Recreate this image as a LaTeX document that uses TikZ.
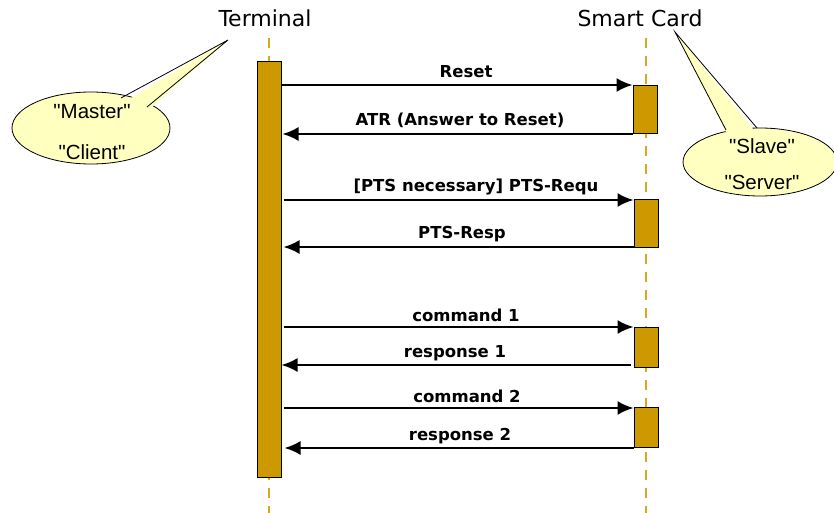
\documentclass[tikz,border=0pt]{standalone}
\usepackage{fontspec}
\setmainfont{DejaVu Sans}
\newfontfamily\calloutfont{Liberation Sans}
\usetikzlibrary{arrows.meta,calc}
\definecolor{barfill}{HTML}{CC9900}
\definecolor{lifecol}{HTML}{DDA520}
\definecolor{callfill}{HTML}{FFFFC0}
\tikzset{
  lifeline/.style={draw=lifecol, line width=2.4pt, dash pattern=on 10pt off 8pt},
  actbar/.style={draw=black, fill=barfill, line width=1pt, minimum width=24pt, inner sep=0pt, anchor=north},
  msg/.style={draw=black, line width=2pt, -{Latex[length=16pt,width=14pt]}},
  msglabel/.style={font=\bfseries\fontsize{16.5}{19}\selectfont, inner sep=0pt},
  title/.style={font=\fontsize{22}{26}\selectfont, inner sep=0pt},
  calltext/.style={font=\calloutfont\fontsize{20.5}{24}\selectfont, inner sep=0pt},
}
\begin{document}
\begin{tikzpicture}[x=1pt,y=-1pt]
\useasboundingbox (0,0) rectangle (834,513);
% titles
\node[title] (tterm) at (265,18) {Terminal};
\node[title] (tcard) at (640,18) {Smart Card};
% lifelines
\coordinate (tl0) at (269,38);
\coordinate (tl1) at (269,513);
\coordinate (cl0) at (646,38);
\coordinate (cl1) at (646,513);
\draw[lifeline] (tl0) -- (tl1);
\draw[lifeline] (cl0) -- (cl1);
% activation bars
\node[actbar, minimum height=416pt] (tbar) at (269,61) {};
\node[actbar, minimum height=48pt] (c1) at (645,85) {};
\node[actbar, minimum height=48pt] (c2) at (646,199) {};
\node[actbar, minimum height=40pt] (c3) at (646,327) {};
\node[actbar, minimum height=40pt] (c4) at (646,407) {};
% messages
\draw[msg] (tbar.east |- c1.north) -- (c1.north west);
\draw[msg] (c1.south west) -- ($(tbar.east |- c1.south)+(1,0)$);
\draw[msg] ($(tbar.east |- c2.north)+(2,1)$) -- ($(c2.north west)+(0,1)$);
\draw[msg] ($(c2.south west)+(0,-1)$) -- ($(tbar.east |- c2.south)+(2,-1)$);
\draw[msg] ($(tbar.east |- c3.north)+(2,0)$) -- (c3.north west);
\draw[msg] ($(c3.south west)+(-3,-3)$) -- ($(tbar.east |- c3.south)+(0,-3)$);
\draw[msg] ($(tbar.east |- c4.north)+(2,1)$) -- ($(c4.north west)+(0,1)$);
\draw[msg] (c4.south west) -- ($(tbar.east |- c4.south)+(3,0)$);
% labels
\node[msglabel] (l1) at (466,72) {Reset};
\node[msglabel] (l2) at (460,120) {ATR (Answer to Reset)};
\node[msglabel] (l3) at (476,187) {[PTS necessary] PTS-Requ};
\node[msglabel] (l4) at (462,234) {PTS-Resp};
\node[msglabel] (l5) at (466,315) {command 1};
\node[msglabel] (l6) at (455,353) {response 1};
\node[msglabel] (l7) at (467,396) {command 2};
\node[msglabel] (l8) at (460,436) {response 2};
% left callout
\coordinate (ltip) at (228,40);
\coordinate (lb1) at (121,98);
\coordinate (lb2) at (147,107);
\fill[callfill] (91,128) ellipse [x radius=79pt, y radius=36pt];
\draw[line width=0.8pt] (91,128) ellipse [x radius=79pt, y radius=36pt];
\fill[callfill] ($(lb1)+(0,6)$) -- (ltip) -- ($(lb2)+(-2,6)$) -- cycle;
\draw[line width=0.8pt] (lb1) -- (ltip) -- (lb2);
\node[calltext] (master) at (92,112) {"Master"};
\node[calltext] (client) at (92,152) {"Client"};
% right callout
\coordinate (rtip) at (675,32);
\coordinate (rb1) at (726,130);
\coordinate (rb2) at (757,128);
\fill[callfill] (760,162) ellipse [x radius=77pt, y radius=34pt];
\draw[line width=0.8pt] (760,162) ellipse [x radius=77pt, y radius=34pt];
\fill[callfill] ($(rb1)+(2,6)$) -- (rtip) -- ($(rb2)+(0,6)$) -- cycle;
\draw[line width=0.8pt] (rb1) -- (rtip) -- (rb2);
\node[calltext] (slave) at (762,146) {"Slave"};
\node[calltext] (server) at (762,182) {"Server"};
\end{tikzpicture}
\end{document}
